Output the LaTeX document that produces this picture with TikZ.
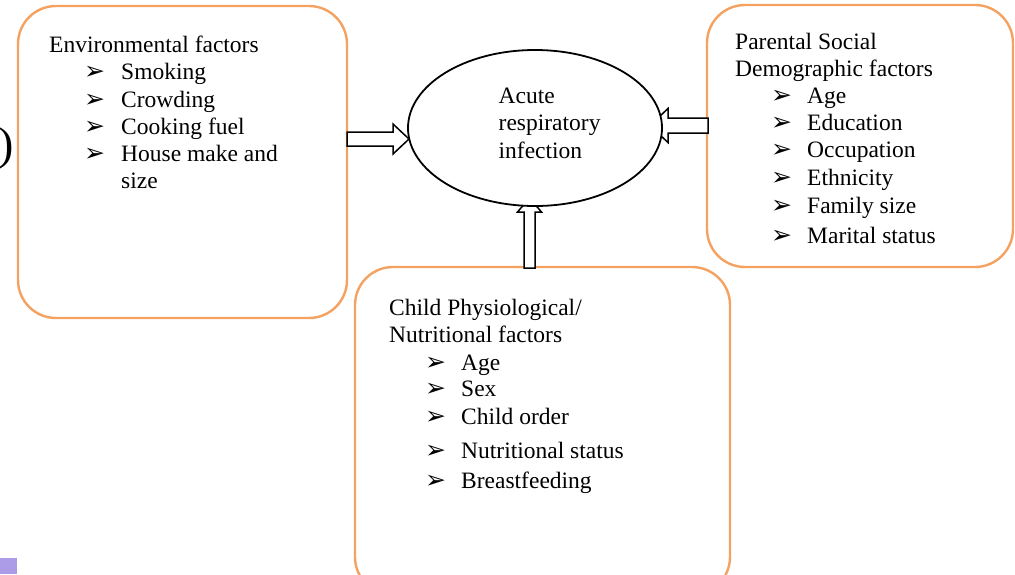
\documentclass[tikz,border=0pt]{standalone}
\usepackage{fontspec}
\setmainfont{Liberation Serif}
\newfontfamily\arrowfont{DejaVu Sans}
\usepackage{tikz}
\usetikzlibrary{shapes, calc}
\definecolor{boxorange}{RGB}{244,162,97}
\definecolor{cornerpurple}{RGB}{172,156,232}

\begin{document}
\begin{tikzpicture}[x=1pt, y=-1pt]
            \tikzstyle{factorbox} = [draw=boxorange, line width=2.4pt, rectangle, rounded corners=38pt, inner sep=0pt]
            \tikzstyle{outcome} = [draw, ellipse, line width=1.8pt, fill=white, minimum width=254pt, minimum height=156pt, inner sep=0pt]
            \tikzstyle{hollow} = [draw, fill=white, line width=1.5pt, line join=miter]
            \tikzstyle{txt} = [anchor=base west, inner sep=0pt, font=\fontsize{23.5}{27.5}\selectfont]
            \tikzstyle{itemmark} = [anchor=base west, inner sep=0pt, font=\arrowfont\fontsize{25}{25}\selectfont]

            \useasboundingbox (0,0) rectangle (1015,574);
            \clip (0,0) rectangle (1015,574);

            \node[factorbox, minimum width=329pt, minimum height=312pt] (env) at (182.5,162) {};
            \node[factorbox, minimum width=306pt, minimum height=262pt] (parent) at (860,136) {};
            \node[factorbox, minimum width=375pt, minimum height=328pt] (child) at (542.5,431) {};

            % environmental factors
            \node[txt] (envhead) at (49,52) {Environmental factors};
            \foreach \name/\y [count=\i] in {Smoking/79.5, Crowding/107, Cooking fuel/134, House make and/161}{
                \node[itemmark] (envmark\i) at (84,\y) {➢};
                \node[txt] (envitem\i) at (121,\y) {\name};
            }
            \node[txt] (envsize) at (121,188.5) {size};

            % parental factors
            \node[txt] (parenthead) at (735,49.3) {Parental Social};
            \node[txt] (parenthead2) at (735,76.7) {Demographic factors};
            \foreach \name/\y [count=\i] in {Age/103.3, Education/130.7, Occupation/157.3, Ethnicity/185, Family size/213.3, Marital status/243.3}{
                \node[itemmark] (parentmark\i) at (771,\y) {➢};
                \node[txt] (parentitem\i) at (807,\y) {\name};
            }

            % child factors
            \node[txt] (childhead) at (389,315) {Child Physiological/};
            \node[txt] (childhead2) at (389,342.3) {Nutritional factors};
            \foreach \name/\y [count=\i] in {Age/370, Sex/396.7, Child order/424.3, Nutritional status/458.3, Breastfeeding/488.3}{
                \node[itemmark] (childmark\i) at (425,\y) {➢};
                \node[txt] (childitem\i) at (461,\y) {\name};
            }

            % block arrows
            \coordinate (envtail) at (347,139);
            \coordinate (envtip) at (409,139);
            \coordinate (parenttail) at (708,125.5);
            \coordinate (parenttip) at (650,125.5);
            \coordinate (childtail) at (529.5,268);
            \coordinate (childtip) at (529.5,198);

            \draw[hollow] ($(envtail)+(0,-7)$) -- ($(envtip)+(-16,-7)$) -- ($(envtip)+(-16,-15)$) -- (envtip)
                -- ($(envtip)+(-16,15)$) -- ($(envtip)+(-16,7)$) -- ($(envtail)+(0,7)$) -- cycle;
            \draw[hollow] ($(parenttail)+(0,-7.5)$) -- ($(parenttip)+(18,-7.5)$) -- ($(parenttip)+(18,-17)$) -- (parenttip)
                -- ($(parenttip)+(18,17)$) -- ($(parenttip)+(18,7.5)$) -- ($(parenttail)+(0,7.5)$) -- cycle;
            \draw[hollow] ($(childtail)+(-5.5,0)$) -- ($(childtip)+(-5.5,14)$) -- ($(childtip)+(-12,14)$) -- (childtip)
                -- ($(childtip)+(12,14)$) -- ($(childtip)+(5.5,14)$) -- ($(childtail)+(5.5,0)$) -- cycle;

            \node[outcome] (ari) at (535,128) {};
            \foreach \word/\y [count=\i] in {Acute/103.3, respiratory/130.7, infection/158.3}{
                \node[txt] (ariline\i) at (498.5,\y) {\word};
            }

            % cut-off edge marks
            \node[anchor=base west, inner sep=0pt, font=\fontsize{46}{46}\selectfont] (paren) at (-1.5,159) {)};
            \fill[cornerpurple] (0,558) rectangle (17,574);
        \end{tikzpicture}
\end{document}
